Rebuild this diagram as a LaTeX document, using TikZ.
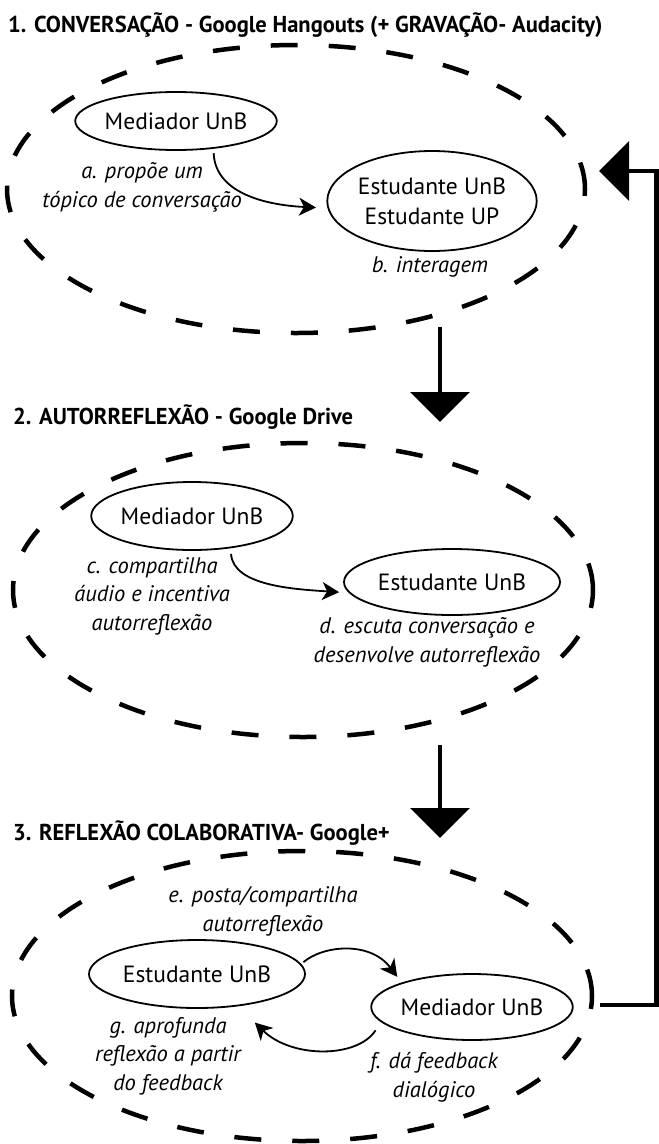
\documentclass[tikz,border=0pt]{standalone}
\usepackage{fontspec}
\setmainfont{PT Sans}
\newfontfamily\titlefont{PT Sans}[FakeStretch=0.98]
\usetikzlibrary{arrows.meta,shapes.geometric}
\tikzset{
  section/.style={ellipse,draw,line width=4.5pt,dash pattern=on 27pt off 31pt,inner sep=0pt},
  actor/.style={ellipse,draw,line width=1.8pt,inner sep=0pt,align=center,
    font=\fontsize{23.5pt}{30pt}\selectfont},
  lbl/.style={align=center,anchor=base,inner sep=0pt,
    font=\fontsize{22.5pt}{28.5pt}\selectfont\itshape},
  ttl/.style={anchor=base west,inner sep=0pt,font=\titlefont\bfseries\fontsize{23pt}{28pt}\selectfont},
  arr/.style={line width=1.8pt,-{Stealth[length=17pt,width=18pt,inset=5pt]}},
  bigarr/.style={line width=4.5pt,-{Triangle[length=30pt,width=59pt]}},
}
\begin{document}
\begin{tikzpicture}[x=1pt,y=-1pt]
\useasboundingbox (0,0) rectangle (659,1144);
% titles
\node[ttl] (t1) at (8,32) {1. CONVERSAÇÃO - Google Hangouts (+ GRAVAÇÃO- Audacity)};
\node[ttl] (t2) at (13,424) {2. AUTORREFLEXÃO - Google Drive};
\node[ttl] (t3) at (13,840) {3. REFLEXÃO COLABORATIVA- Google+};
% section containers
\node[section,minimum width=578pt,minimum height=288pt] (sec1) at (296,189) {};
\node[section,minimum width=580pt,minimum height=294pt] (sec2) at (303,590) {};
\node[section,minimum width=580pt,minimum height=290pt] (sec3) at (302,996) {};
% section 1
\node[actor,minimum width=194pt,minimum height=58pt] (m1) at (176,121) {Mediador UnB};
\node[actor,minimum width=206pt,minimum height=100pt] (s1) at (432,201) {Estudante UnB\\Estudante UP};
\node[lbl] (la) at (142,207) {a. propõe um\\tópico de conversação};
\node[lbl] (lb) at (430,272) {b. interagem};
\draw[arr] ([shift={(4,4)}]m1.-40) .. controls +(2,43) and +(-43,-2) .. ([shift={(-11,1)}]s1.183);
% section 2
\node[actor,minimum width=196pt,minimum height=68pt] (m2) at (192,516) {Mediador UnB};
\node[actor,minimum width=216pt,minimum height=66pt] (s2) at (452,582) {Estudante UnB};
\node[lbl] (lc) at (152,630) {c. compartilha\\áudio e incentiva\\autorreflexão};
\node[lbl] (ld) at (427,662) {d. escuta conversação e\\desenvolve autorreflexão};
\draw[arr] ([shift={(5,5)}]m2.-44) .. controls +(2,32) and +(-45,-3) .. ([shift={(-8,1)}]s2.185);
% section 3
\node[actor,minimum width=216pt,minimum height=68pt] (s3) at (197,974) {Estudante UnB};
\node[actor,minimum width=198pt,minimum height=66pt] (m3) at (472,1007) {Mediador UnB};
\node[lbl] (le) at (263,931) {e. posta/compartilha\\autorreflexão};
\node[lbl] (lf) at (434,1097) {f. dá feedback\\dialógico};
\node[lbl] (lg) at (168,1090) {g. aprofunda\\reflexão a partir\\do feedback};
\draw[arr] ([shift={(3,-1)}]s3.6) .. controls +(20,-17) and +(-27,-36) .. ([shift={(-10,-4)}]m3.158);
\draw[arr] ([shift={(-15,3)}]m3.194) .. controls +(-18,28) and +(37,36) .. ([shift={(19,16)}]s3.-40);
% flow arrows
\coordinate (d1a) at (440,327);
\coordinate (d1b) at (440,422);
\coordinate (d2a) at (440,745);
\coordinate (d2b) at (440,838);
\draw[bigarr] (d1a) -- (d1b);
\draw[bigarr] (d2a) -- (d2b);
\coordinate (fb0) at (600,1005);
\coordinate (fb1) at (656.5,1005);
\coordinate (fb2) at (656.5,171);
\coordinate (fb3) at (599,171);
\draw[bigarr,line join=miter] (fb0) -- (fb1) -- (fb2) -- (fb3);
\end{tikzpicture}
\end{document}
